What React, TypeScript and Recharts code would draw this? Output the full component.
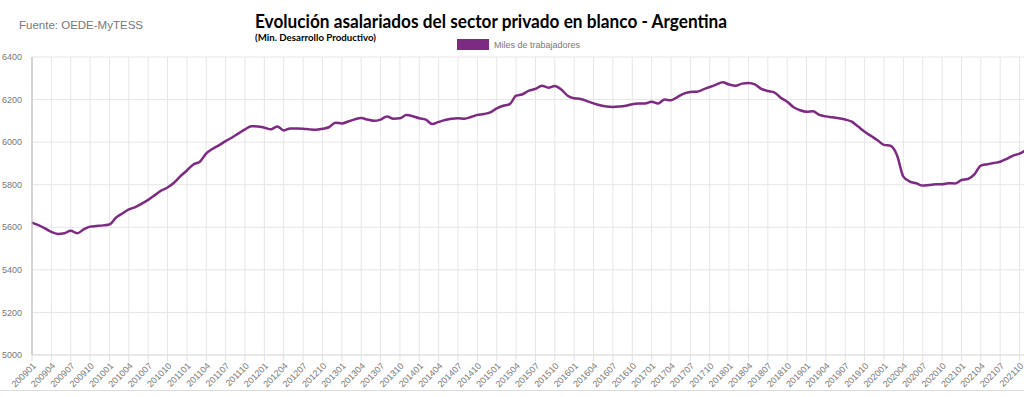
import { LineChart, Line, XAxis, YAxis, CartesianGrid } from "recharts"

// months 200901 .. 202111
const meses: string[] = []
for (let y = 2009; y <= 2021; y++) {
  for (let m = 1; m <= 12; m++) {
    if (y === 2021 && m > 11) break
    meses.push(`${y}${String(m).padStart(2, "0")}`)
  }
}

// miles de trabajadores
const asalariados2009_2012 = [
  5622, 5610, 5595, 5578, 5569, 5572, 5584, 5572, 5590, 5603, 5606, 5609,
  5613, 5645, 5665, 5684, 5695, 5711, 5729, 5750, 5772, 5787, 5809, 5840,
  5867, 5895, 5908, 5947, 5969, 5986, 6005, 6022, 6041, 6060, 6075, 6074,
  6068, 6060, 6074, 6055, 6064, 6064, 6063, 6060, 6058, 6063, 6070, 6091,
]
const asalariados2013_2016 = [
  6088, 6097, 6107, 6113, 6106, 6100, 6106, 6121, 6110, 6112, 6127, 6122,
  6112, 6106, 6085, 6095, 6104, 6110, 6112, 6110, 6118, 6128, 6132, 6140,
  6159, 6171, 6178, 6218, 6225, 6242, 6250, 6265, 6256, 6264, 6247, 6218,
  6206, 6203, 6193, 6182, 6173, 6167, 6165, 6167, 6171, 6178, 6181, 6182,
]
const asalariados2017_2021 = [
  6190, 6182, 6200, 6197, 6212, 6228, 6236, 6237, 6248, 6259, 6270, 6281,
  6271, 6265, 6275, 6278, 6271, 6250, 6240, 6234, 6209, 6190, 6164, 6150,
  6143, 6145, 6128, 6121, 6117, 6112, 6106, 6096, 6073, 6049, 6029, 6009,
  5987, 5983, 5940, 5838, 5815, 5807, 5796, 5799, 5802, 5802, 5807, 5806,
  5822, 5827, 5849, 5890, 5896, 5902, 5908, 5921, 5937, 5946, 5963,
]
const valores = [...asalariados2009_2012, ...asalariados2013_2016, ...asalariados2017_2021]

const yTicks = [5000, 5200, 5400, 5600, 5800, 6000, 6200, 6400]

const PURPLE = "#7d2a83"
const GREY_TEXT = "#777"
const AXIS_FONT = "'Liberation Sans', Arial, sans-serif"

const data = meses.map((mes, i) => ({ mes, valor: valores[i] }))

export default function App() {
  return (
    <div
      style={{
        position: "absolute",
        left: 0,
        top: 0,
        width: 1024,
        height: 397,
        overflow: "hidden",
        background: "#fff",
      }}
    >
      <div
        style={{
          position: "absolute",
          left: 19,
          top: 19,
          fontFamily: AXIS_FONT,
          fontSize: 11.5,
          color: GREY_TEXT,
          whiteSpace: "nowrap",
        }}
      >
        Fuente: OEDE-MyTESS
      </div>
      <svg
        width={1024}
        height={50}
        style={{ position: "absolute", left: 0, top: 0 }}
      >
        <text
          x={255}
          y={28}
          fontFamily="Lato, 'Open Sans', sans-serif"
          fontWeight="bold"
          fontSize={18}
          fill="#000"
          textLength={472}
          lengthAdjust="spacingAndGlyphs"
        >
          Evolución asalariados del sector privado en blanco - Argentina
        </text>
        <text
          x={255}
          y={41}
          fontFamily="Lato, 'Open Sans', sans-serif"
          fontWeight="bold"
          fontSize={9.5}
          fill="#000"
          textLength={121}
          lengthAdjust="spacingAndGlyphs"
        >
          (Min. Desarrollo Productivo)
        </text>
        <rect x={457} y={39} width={32} height={11} fill={PURPLE} />
        <text
          x={494}
          y={48}
          fontFamily={AXIS_FONT}
          fontSize={9}
          fill={GREY_TEXT}
        >
          Miles de trabajadores
        </text>
      </svg>
      <div
        style={{
          position: "absolute",
          left: 0,
          top: 390,
          width: 1024,
          borderTop: "1px solid #ddd",
        }}
      />
      <LineChart
        width={1026}
        height={397}
        data={data}
        margin={{ top: 57, right: 0, bottom: 0, left: 0 }}
      >
        <CartesianGrid stroke="#e6e6e6" />
        <XAxis
          dataKey="mes"
          interval={2}
          angle={-45}
          textAnchor="end"
          height={42}
          tick={{ fontSize: 9, fill: GREY_TEXT, fontFamily: AXIS_FONT }}
          tickLine={{ stroke: "#e0e0e0" }}
          axisLine={{ stroke: "#ddd" }}
          tickMargin={1}
        />
        <YAxis
          domain={[5000, 6400]}
          ticks={yTicks}
          width={32}
          tickLine={false}
          tickMargin={4}
          axisLine={{ stroke: "#bbb" }}
          tick={{ fontSize: 9, fill: GREY_TEXT, fontFamily: AXIS_FONT }}
        />
        <Line
          type="monotone"
          dataKey="valor"
          stroke={PURPLE}
          strokeWidth={2.5}
          dot={false}
          isAnimationActive={false}
        />
      </LineChart>
    </div>
  )
}
